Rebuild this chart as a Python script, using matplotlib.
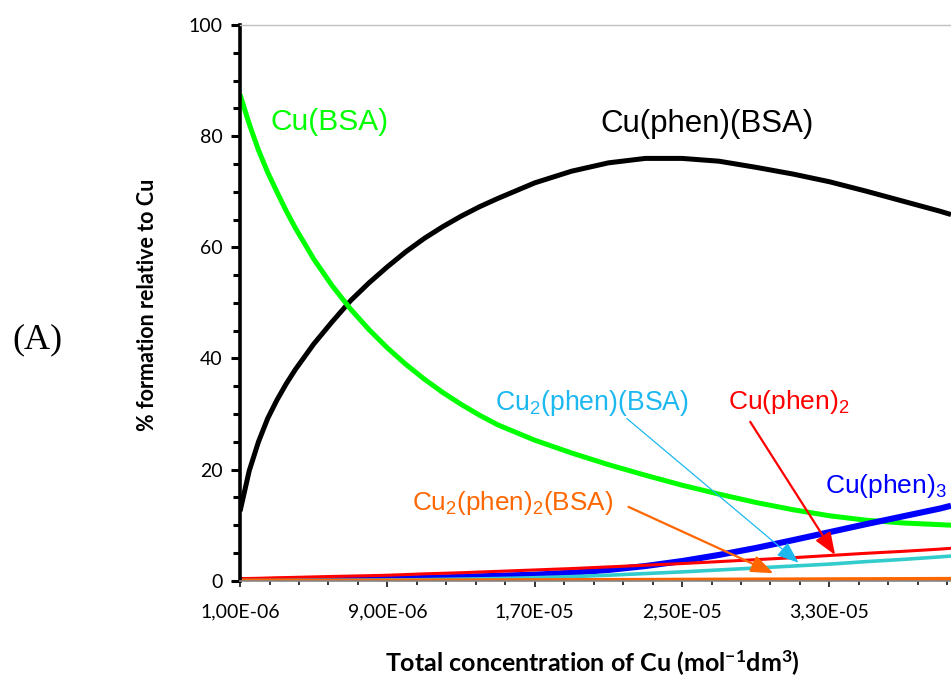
import matplotlib
matplotlib.use("Agg")
import matplotlib.pyplot as plt
from matplotlib.ticker import FixedLocator, MultipleLocator

plt.rcParams["font.family"] = ["Lato", "DejaVu Sans"]
plt.rcParams["mathtext.fontset"] = "custom"
plt.rcParams["mathtext.rm"] = "Liberation Sans"
plt.rcParams["mathtext.it"] = "Liberation Sans:italic"
plt.rcParams["mathtext.bf"] = "Lato:bold"
plt.rcParams["mathtext.default"] = "rm"

# Total Cu concentration (mol dm-3)
conc = [1.0e-6, 1.5e-6, 2.0e-6, 2.5e-6, 3.0e-6, 3.5e-6, 4.0e-6, 5.0e-6, 6.0e-6,
        7.0e-6, 8.0e-6, 9.0e-6, 1.0e-5, 1.1e-5, 1.2e-5, 1.3e-5, 1.4e-5, 1.5e-5,
        1.7e-5, 1.9e-5, 2.1e-5, 2.3e-5, 2.5e-5, 2.7e-5, 2.9e-5, 3.1e-5, 3.3e-5,
        3.5e-5, 3.7e-5, 3.9e-5, 3.96e-5]

# % formation of each species relative to total Cu
cu_bsa = [87.5, 82.2, 77.5, 73.5, 70.0, 66.6, 63.5, 57.9, 53.1,
          48.9, 45.2, 41.9, 38.95, 36.3, 33.9, 31.75, 29.8, 28.05,
          25.3, 23.0, 20.9, 19.0, 17.2, 15.6, 14.1, 12.8, 11.7,
          10.9, 10.4, 10.1, 10.0]
cu_phen_bsa = [12.5, 19.8, 25.0, 29.2, 32.5, 35.4, 38.0, 42.6, 46.6,
               50.4, 53.6, 56.5, 59.2, 61.6, 63.7, 65.6, 67.3, 68.8,
               71.6, 73.7, 75.2, 76.0, 76.0, 75.5, 74.4, 73.2, 71.8,
               70.1, 68.3, 66.5, 65.9]
cu_phen3 = [0.05, 0.06, 0.07, 0.09, 0.10, 0.11, 0.12, 0.15, 0.20,
            0.25, 0.30, 0.35, 0.42, 0.50, 0.60, 0.70, 0.80, 0.90,
            1.10, 1.45, 1.95, 2.65, 3.55, 4.65, 5.90, 7.30, 8.75,
            10.2, 11.6, 13.0, 13.5]
cu_phen2 = [0.40, 0.42, 0.45, 0.50, 0.55, 0.58, 0.62, 0.70, 0.78,
            0.85, 0.92, 1.00, 1.12, 1.25, 1.35, 1.45, 1.58, 1.70,
            1.95, 2.20, 2.50, 2.80, 3.10, 3.45, 3.80, 4.15, 4.55,
            4.95, 5.30, 5.70, 5.85]
cu2_phen_bsa = [0.05, 0.05, 0.05, 0.05, 0.05, 0.06, 0.07, 0.08, 0.09,
                0.10, 0.12, 0.15, 0.17, 0.20, 0.25, 0.30, 0.35, 0.40,
                0.55, 0.75, 1.00, 1.30, 1.60, 1.95, 2.30, 2.65, 3.00,
                3.45, 3.85, 4.30, 4.45]
cu2_phen2_bsa = [0.0, 0.0, 0.0, 0.0, 0.0, 0.0, 0.0, 0.01, 0.015,
                 0.02, 0.025, 0.03, 0.04, 0.05, 0.055, 0.06, 0.07, 0.08,
                 0.10, 0.12, 0.14, 0.16, 0.18, 0.20, 0.22, 0.24, 0.26,
                 0.28, 0.30, 0.32, 0.33]

xtick_values = [1e-6, 9e-6, 1.7e-5, 2.5e-5, 3.3e-5]
xtick_labels = ["1,00E-06", "9,00E-06", "1,70E-05", "2,50E-05", "3,30E-05"]
xminor_step = 1.6e-6
x_max = 3.96e-5

fig = plt.figure(figsize=(9.51, 6.8), dpi=100)
ax = fig.add_axes([0.2524, 0.1459, 0.7476, 0.8173])

ax.plot(conc, cu_phen_bsa, color="black", lw=3.6, solid_capstyle="butt")
ax.plot(conc, cu_bsa, color="#00FF00", lw=3.6, solid_capstyle="butt")
ax.plot(conc, cu_phen3, color="#0000FF", lw=4.4, solid_capstyle="butt")
ax.plot(conc, cu_phen2, color="#FF0000", lw=2.2, solid_capstyle="butt")
ax.plot(conc, cu2_phen_bsa, color="#33CCCC", lw=2.6, solid_capstyle="butt")
ax.plot(conc, cu2_phen2_bsa, color="#FF6600", lw=3.0, solid_capstyle="butt")

ax.set_xlim(conc[0], x_max)
ax.set_ylim(0, 100)

# axes styling
ax.spines["right"].set_visible(False)
ax.spines["top"].set_color("#BFBFBF")
ax.spines["top"].set_linewidth(1.0)
ax.spines["left"].set_linewidth(2.6)
ax.spines["left"].set_color("black")
ax.spines["bottom"].set_color("#868686")
ax.spines["bottom"].set_linewidth(1.2)

ax.xaxis.set_major_locator(FixedLocator(xtick_values))
minor = []
v = conc[0]
while v <= x_max + 1e-12:
    minor.append(v)
    v += xminor_step
ax.xaxis.set_minor_locator(FixedLocator(minor))
ax.set_xticklabels(xtick_labels)
ax.yaxis.set_major_locator(MultipleLocator(20))
ax.yaxis.set_minor_locator(MultipleLocator(5))

ax.tick_params(axis="x", which="major", direction="out", length=4.2, width=1.1,
               color="black", labelsize=14, pad=12)
ax.tick_params(axis="x", which="minor", direction="out", length=2.6, width=1.1,
               color="black")
ax.tick_params(axis="y", which="major", direction="out", length=6.6, width=2.2,
               color="black", labelsize=14, pad=6)
ax.tick_params(axis="y", which="minor", direction="out", length=4.8, width=2.2,
               color="black")

# axis titles
fig.text(148 / 951, 1 - 305 / 680, "% formation relative to Cu", fontsize=15.5,
         fontweight="bold", rotation=90, ha="center", va="center")
fig.text(592 / 951, 1 - 672 / 680,
         r"Total concentration of Cu (mol$\mathbf{^{-1}}$dm$\mathbf{^{3}}$)",
         fontsize=18, fontweight="bold", ha="center", va="baseline")

# species labels
lab = dict(family=["Liberation Sans", "DejaVu Sans"], va="baseline", ha="left")
ax.text(2.63e-6, 81.1, "Cu(BSA)", color="#00FF00", fontsize=21.5, **lab)
ax.text(2.055e-5, 80.8, "Cu(phen)(BSA)", color="black", fontsize=22.5, **lab)
ax.text(1.485e-5, 30.7, r"Cu$_2$(phen)(BSA)", color="#1EB8F0", fontsize=19.2, **lab)
ax.text(2.75e-5, 31.0, r"Cu(phen)$_2$", color="#FF0000", fontsize=19, **lab)
ax.text(3.277e-5, 15.8, r"Cu(phen)$_3$", color="#0000FF", fontsize=19, **lab)
ax.text(1.0325e-5, 12.7, r"Cu$_2$(phen)$_2$(BSA)", color="#FF6600", fontsize=18.8, **lab)

# pointer arrows
def pointer(tail, tip, color, lw):
    ax.annotate("", xy=tip, xytext=tail,
                arrowprops=dict(arrowstyle="-|>,head_length=0.9,head_width=0.35",
                                mutation_scale=15, color=color, lw=lw,
                                shrinkA=0, shrinkB=0))

pointer((2.20e-5, 29.2), (3.132e-5, 3.26), "#1EB8F0", 0.9)
pointer((2.87e-5, 28.6), (3.331e-5, 4.64), "#FF0000", 1.6)
pointer((2.209e-5, 13.3), (2.996e-5, 1.35), "#FF6600", 1.6)

fig.text(12 / 951, 1 - 348 / 680, "(A)", fontsize=26,
         family=["Liberation Serif", "DejaVu Serif"], va="baseline", ha="left")

fig.savefig("out.png", dpi=100)
